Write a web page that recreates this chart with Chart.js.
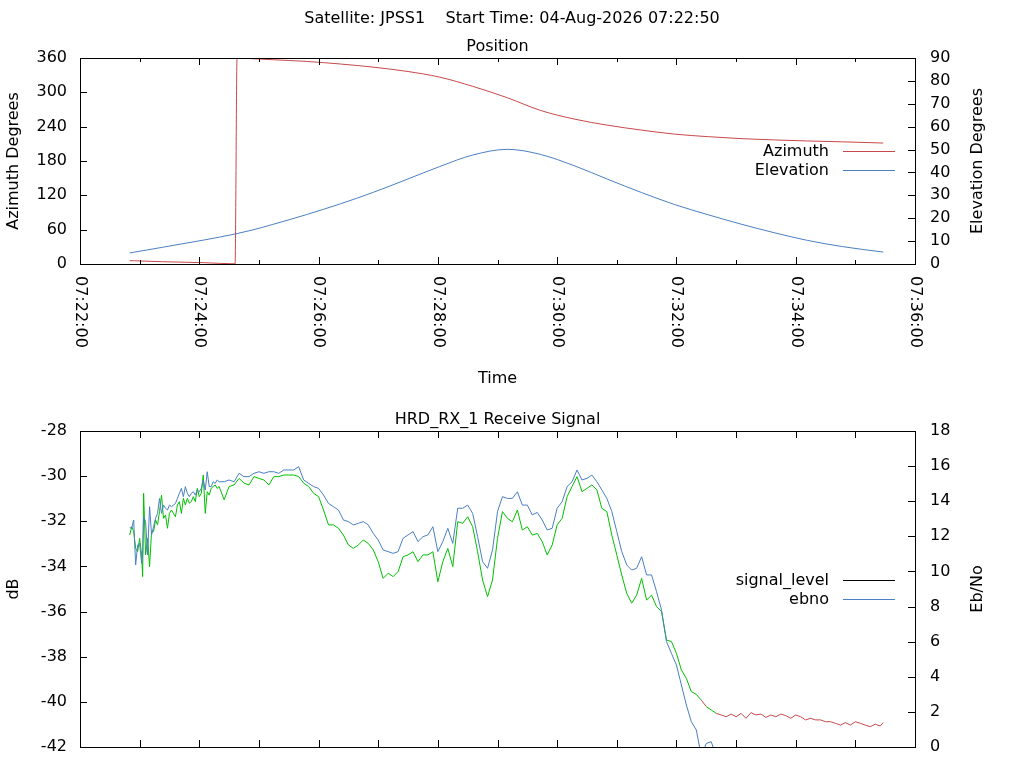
<!DOCTYPE html>
<html><head><meta charset="utf-8">
<script src="https://cdn.jsdelivr.net/npm/chart.js@4.4.1/dist/chart.umd.min.js"></script>
<style>
html,body{margin:0;padding:0;width:1024px;height:768px;overflow:hidden;background:#fff;}
canvas{position:absolute;left:0;}
#c1{top:0;} #c2{top:400px;}
</style></head><body>
<canvas id="c1" width="1024" height="400"></canvas>
<canvas id="c2" width="1024" height="500"></canvas>
<script>
// ---------- data ----------
const satellite = 'JPSS1';
const startTime = '04-Aug-2026 07:22:50';
// x tick labels (every 2 minutes from 07:22:00); times below are seconds after 07:22:00
const xTickLabels = ['07:22:00','07:24:00','07:26:00','07:28:00','07:30:00','07:32:00','07:34:00','07:36:00'];

const posTimes  = [50, 55, 83, 125, 156, 158, 173, 194, 228, 262, 295, 329, 362, 395, 430, 463, 498, 531, 565, 598, 632, 666, 699, 732, 767, 808];
const azimuth   = [5.8, 5.6, 4.0, 2.3, 0.3, 359.9, 358.8, 357.0, 354.0, 349.5, 344.0, 336.6, 326.5, 310.5, 290.5, 268.5, 253.0, 242.5, 234.0, 227.0, 222.5, 219.0, 216.8, 215.0, 213.5, 211.4];
const elevation = [4.8, 5.2, 7.3, 10.5, 13.1, 13.3, 14.8, 17.3, 21.6, 26.3, 31.3, 37.0, 42.6, 47.6, 50.1, 47.9, 42.8, 37.0, 31.2, 26.0, 21.5, 17.3, 13.6, 10.3, 7.6, 5.2];

const sigTimes = [50,52,54,56,58,60,62,63,64,66,68,70,72,74,76,78,80,82,84,86,88,90,92,94,96,98,100,102,104,106,108,110,112,114,116,118,120,122,124,126,128,130,132,134,136,138,140,
  145,150,155,160,165,170,175,180,185,190,195,200,205,210,215,220,225,230,235,240,245,250,255,260,265,270,275,280,285,290,295,300,
  305,310,315,320,325,330,335,340,345,350,355,360,365,370,375,380,385,390,395,400,405,410,415,420,425,430,435,440,445,450,455,460,
  465,470,475,480,485,490,495,500,505,510,515,520,525,530,535,540,545,550,555,560,565,570,575,580,585,590,595,600,605,610,615,620,
  625,630,635,640,645,650,655,660,665,670,675,680,685,690,695,700,705,710,715,720,725,730,735,740,745,750,755,760,765,770,775,780,
  785,790,795,800,805,808];
const signalLevel = [-32.61,-32.24,-32.46,-33.20,-33.35,-32.76,-33.49,-34.45,-30.76,-33.49,-32.76,-34.01,-32.46,-32.46,-31.94,-32.16,-31.57,-30.84,-31.87,-31.72,-32.31,-31.65,-31.50,-31.65,-31.80,-31.28,-31.13,-31.65,-30.98,-31.28,-30.98,-31.20,-31.13,-30.91,-31.13,-30.54,-30.91,-30.76,-29.95,-31.65,-30.69,-30.84,-30.54,-30.46,-30.39,-30.54,-30.46,
  -31.05,-30.46,-30.39,-30.10,-30.31,-30.39,-30.02,-30.10,-30.17,-30.39,-30.02,-30.02,-29.95,-29.95,-29.95,-30.02,-30.31,-30.46,-30.76,-30.91,-31.50,-32.16,-32.16,-32.31,-32.61,-33.05,-33.20,-33.05,-32.83,-32.98,-33.27,-33.79,
  -34.53,-34.30,-34.45,-34.23,-33.57,-33.49,-33.35,-33.79,-33.49,-33.49,-33.35,-34.68,-33.79,-33.20,-34.01,-32.02,-32.09,-31.80,-32.24,-33.35,-34.60,-35.34,-34.60,-32.76,-31.57,-31.87,-32.02,-31.50,-32.39,-32.24,-32.61,-32.54,
  -32.90,-33.49,-33.05,-32.16,-31.87,-30.91,-30.46,-30.02,-30.69,-30.54,-30.39,-30.61,-31.43,-31.57,-32.61,-33.49,-34.38,-35.19,-35.63,-35.27,-34.53,-35.49,-35.27,-35.78,-36.00,-37.26,-37.33,-37.85,-38.59,-38.96,-39.55,-39.67,
  -39.92,-40.21,-40.36,-40.51,-40.58,-40.66,-40.54,-40.66,-40.51,-40.73,-40.48,-40.58,-40.54,-40.69,-40.58,-40.66,-40.54,-40.61,-40.73,-40.58,-40.66,-40.80,-40.73,-40.80,-40.80,-40.88,-40.88,-40.95,-41.03,-40.92,-41.03,-40.88,
  -40.95,-41.03,-41.10,-40.99,-41.07,-40.92];
// Eb/No is only recorded while the receiver is in lock (first entries of sigTimes)
const ebno = [12.50,12.46,12.93,10.37,11.51,11.60,10.46,10.94,13.12,12.84,10.94,13.69,12.08,12.55,13.03,13.31,14.16,13.31,13.78,13.60,13.50,13.78,13.69,13.78,13.87,14.16,14.45,14.73,14.26,14.83,14.45,14.26,14.45,14.54,14.35,14.64,14.54,14.73,15.21,14.64,15.68,14.83,14.83,15.11,15.02,15.21,15.11,
  15.11,15.21,15.11,15.59,15.40,15.40,15.59,15.68,15.59,15.68,15.68,15.59,15.78,15.78,15.78,15.97,15.21,15.02,14.83,14.73,14.35,13.87,13.69,13.50,12.93,12.84,12.65,12.74,12.84,12.65,12.17,11.79,
  11.22,11.13,11.03,11.13,11.89,12.08,12.27,11.70,11.98,12.08,12.55,11.13,11.70,12.46,11.60,13.60,13.60,13.78,13.31,11.98,10.56,10.18,11.22,13.41,14.26,14.16,14.16,14.54,13.78,13.78,13.22,13.36,
  12.93,12.36,12.46,13.60,13.97,14.83,15.11,15.78,15.21,15.30,15.49,15.11,14.64,14.16,13.41,12.27,11.13,10.37,10.08,10.18,10.84,9.80,9.80,8.85,7.80,6.00,5.33,4.67,3.53,2.39,1.44,0.97,
  -0.5,0.2,0.3,-0.5];

// ---------- styling ----------
const FAMILY = '"DejaVu Sans", sans-serif';
const FS = 16;
const FONT = FS + 'px ' + FAMILY;
const RED = '#c8484a', BLUE = '#4a7fc1', GREEN = '#00c000', BLACK = '#000000';

function pts(xs, ys) { return ys.map((y, i) => ({ x: xs[i], y: y })); }

const gp = {
  id: 'gp',
  afterDatasetsDraw(chart, args, o) {
    const { ctx, chartArea: a, scales } = chart;
    const L = Math.round(a.left), R = Math.round(a.right), T = Math.round(a.top), B = Math.round(a.bottom);
    ctx.save();
    ctx.strokeStyle = BLACK; ctx.lineWidth = 1;
    ctx.strokeRect(L + 0.5, T + 0.5, R - L, B - T);
    ctx.beginPath();
    scales.x.ticks.forEach(t => {
      const px = Math.round(scales.x.getPixelForValue(t.value)) + 0.5;
      const len = t.label ? o.majorLen : o.minorLen;
      ctx.moveTo(px, B); ctx.lineTo(px, B - len);
      ctx.moveTo(px, T); ctx.lineTo(px, T + len);
    });
    scales.y.ticks.forEach(t => {
      const py = Math.round(scales.y.getPixelForValue(t.value)) + 0.5;
      ctx.moveTo(L, py); ctx.lineTo(L + o.majorLen, py);
    });
    scales.y2.ticks.forEach(t => {
      const py = Math.round(scales.y2.getPixelForValue(t.value)) + 0.5;
      ctx.moveTo(R, py); ctx.lineTo(R - o.majorLen, py);
    });
    ctx.stroke();

    ctx.fillStyle = BLACK; ctx.font = FONT;
    if (o.xLabels) {
      scales.x.ticks.forEach(t => {
        if (!t.label) return;
        const px = scales.x.getPixelForValue(t.value);
        ctx.save();
        ctx.translate(px, B + o.xLabelGap);
        ctx.rotate(Math.PI / 2);
        ctx.textAlign = 'left'; ctx.textBaseline = 'middle';
        ctx.fillText(t.label, 0, 0);
        ctx.restore();
      });
    }
    ctx.textAlign = 'center'; ctx.textBaseline = 'middle';
    const cx = (a.left + a.right) / 2, cy = (a.top + a.bottom) / 2;
    if (o.title) ctx.fillText(o.title, chart.width / 2, o.titleY);
    if (o.subtitle) ctx.fillText(o.subtitle, cx, o.subtitleY);
    if (o.xTitle) ctx.fillText(o.xTitle, cx, o.xTitleY);
    [[o.yTitle, o.yTitleX], [o.y2Title, o.y2TitleX]].forEach(([txt, x]) => {
      if (!txt) return;
      ctx.save(); ctx.translate(x, cy); ctx.rotate(-Math.PI / 2);
      ctx.fillText(txt, 0, 0); ctx.restore();
    });
    // key
    const lg = o.legend;
    lg.labels.forEach((label, i) => {
      const y = Math.round(lg.y0 + i * lg.dy) + 0.5;
      ctx.textAlign = 'right';
      ctx.fillStyle = BLACK;
      ctx.fillText(label, lg.textRight, y);
      ctx.beginPath();
      ctx.strokeStyle = lg.colors[i];
      ctx.moveTo(lg.x0, y); ctx.lineTo(lg.x1, y);
      ctx.stroke();
    });
    ctx.restore();
  }
};

function xAxis(height) {
  return {
    type: 'linear', min: 0, max: 840,
    grid: { display: false, drawTicks: false }, border: { display: false },
    ticks: { display: false, stepSize: 60, autoSkip: false,
      callback: v => (v % 120 === 0 ? xTickLabels[v / 120] : '') },
    afterFit: s => { s.height = height; }
  };
}
function yAxis(pos, min, max, step, width) {
  return {
    type: 'linear', position: pos, min: min, max: max,
    grid: { display: false, drawTicks: false }, border: { display: false },
    ticks: { stepSize: step, autoSkip: false, color: BLACK, padding: pos === 'left' ? 13 : 15,
      font: { family: FAMILY, size: FS } },
    afterFit: s => { s.width = width; }
  };
}
const common = {
  responsive: false, animation: false, events: [],
  elements: { point: { radius: 0 }, line: { borderWidth: 1 } },
};

new Chart(document.getElementById('c1'), {
  type: 'line',
  data: { datasets: [
    { label: 'Azimuth', data: pts(posTimes, azimuth), yAxisID: 'y', borderColor: RED, cubicInterpolationMode: 'monotone', clip: 0 },
    { label: 'Elevation', data: pts(posTimes, elevation), yAxisID: 'y2', borderColor: BLUE, cubicInterpolationMode: 'monotone', clip: 0 }
  ]},
  options: Object.assign({}, common, {
    layout: { padding: { top: 58, left: 0, right: 0, bottom: 0 } },
    scales: { x: xAxis(400 - 264), y: yAxis('left', 0, 360, 60, 80), y2: yAxis('right', 0, 90, 10, 109) },
    plugins: { legend: { display: false }, tooltip: { enabled: false },
      gp: { title: 'Satellite: ' + satellite + '    Start Time: ' + startTime, titleY: 18.5,
        subtitle: 'Position', subtitleY: 46.5, xTitle: 'Time', xTitleY: 379,
        yTitle: 'Azimuth Degrees', yTitleX: 14, y2Title: 'Elevation Degrees', y2TitleX: 978,
        xLabels: true, xLabelGap: 12, majorLen: 7, minorLen: 4,
        legend: { labels: ['Azimuth', 'Elevation'], colors: [RED, BLUE], textRight: 829, x0: 843, x1: 895, y0: 151, dy: 19 } } }
  }),
  plugins: [gp]
});

new Chart(document.getElementById('c2'), {
  type: 'line',
  data: { datasets: [
    { label: 'signal_level', data: pts(sigTimes, signalLevel), yAxisID: 'y', borderColor: GREEN, order: 1, clip: 0,
      segment: { borderColor: c => (ebno[c.p0DataIndex] > 0 ? GREEN : RED) } },
    { label: 'ebno', data: pts(sigTimes, ebno), yAxisID: 'y2', borderColor: BLUE, order: 0, clip: 0 }
  ]},
  options: Object.assign({}, common, {
    layout: { padding: { top: 31, left: 0, right: 0, bottom: 0 } },
    scales: { x: xAxis(500 - 347), y: yAxis('left', -42, -28, 2, 80), y2: yAxis('right', 0, 18, 2, 109) },
    plugins: { legend: { display: false }, tooltip: { enabled: false },
      gp: { subtitle: 'HRD_RX_1 Receive Signal', subtitleY: 20,
        yTitle: 'dB', yTitleX: 14, y2Title: 'Eb/No', y2TitleX: 978,
        xLabels: false, majorLen: 7, minorLen: 7,
        legend: { labels: ['signal_level', 'ebno'], colors: [BLACK, BLUE], textRight: 829, x0: 843, x1: 895, y0: 180.3, dy: 19 } } }
  }),
  plugins: [gp]
});
</script></body></html>
